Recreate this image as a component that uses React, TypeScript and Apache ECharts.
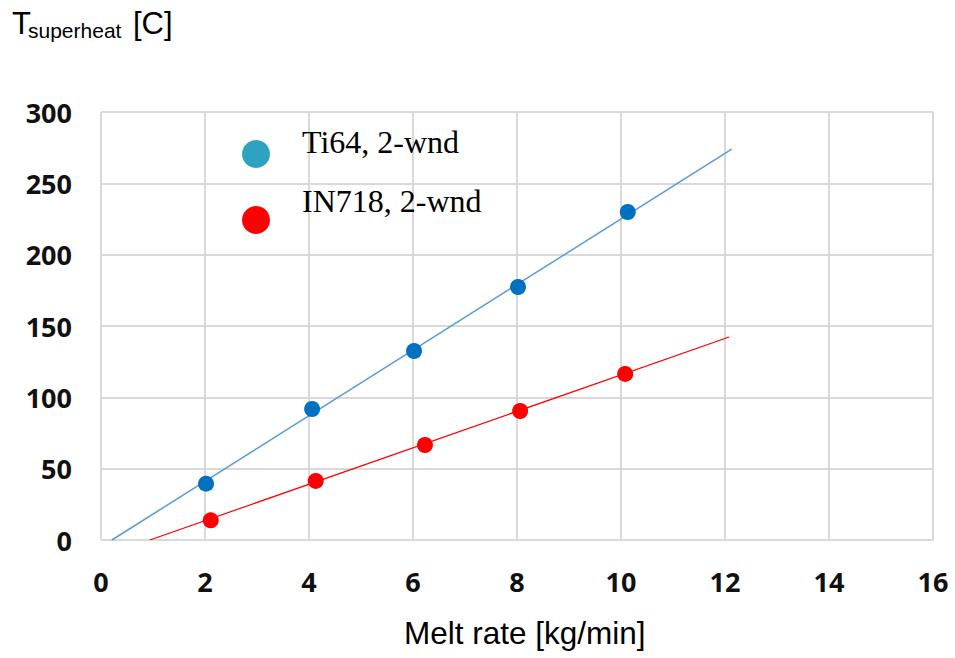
import React, { useEffect, useRef } from "react";
import * as echarts from "echarts";

const xTicks = [0, 2, 4, 6, 8, 10, 12, 14, 16];
const yTicks = [0, 50, 100, 150, 200, 250, 300];

const ti64X = [2.02, 4.06, 6.02, 8.02, 10.13];
const ti64Y = [39.5, 91.8, 132.5, 177.3, 229.9];
const in718X = [2.11, 4.13, 6.23, 8.06, 10.08];
const in718Y = [13.8, 41.4, 66.6, 90.4, 116.4];

const ti64FitX = [0.21, 12.13];
const ti64FitY = [0, 274];
const in718FitX = [0.94, 12.08];
const in718FitY = [0, 142.3];

const legendNames = ["Ti64, 2-wnd", "IN718, 2-wnd"];
const titleMain = "T";
const titleSub = "superheat";
const titleUnit = "[C]";
const xName = "Melt rate [kg/min]";

const zip = (xs: number[], ys: number[]) => xs.map((x, i) => [x, ys[i]]);

export default function App() {
  const ref = useRef<HTMLDivElement>(null);
  useEffect(() => {
    if (!ref.current) return;
    const chart = echarts.init(ref.current, undefined, { renderer: "svg" });
    const tickFont = { fontFamily: "Open Sans, sans-serif", fontWeight: "bold" as const, fontSize: 27, color: "#111" };
    chart.setOption({
      animation: false,
      backgroundColor: "#fff",
      grid: { left: 101, top: 112, width: 832, height: 428, containLabel: false, outerBoundsMode: "none" },
      xAxis: {
        type: "value",
        min: xTicks[0],
        max: xTicks[xTicks.length - 1],
        interval: 2,
        axisLine: { show: true, lineStyle: { color: "#d9d9d9", width: 2 } },
        axisTick: { show: false },
        splitLine: { show: true, lineStyle: { color: "#d9d9d9", width: 2 } },
        axisLabel: { ...tickFont, margin: 28 },
      },
      yAxis: {
        type: "value",
        min: yTicks[0],
        max: yTicks[yTicks.length - 1],
        interval: 50,
        axisLine: { show: false },
        axisTick: { show: false },
        splitLine: { show: true, lineStyle: { color: "#d9d9d9", width: 2 } },
        axisLabel: { ...tickFont, margin: 29 },
      },
      series: [
        {
          type: "line",
          data: zip(ti64FitX, ti64FitY),
          symbol: "none",
          lineStyle: { color: "#5b9bd5", width: 1.5 },
          z: 2,
        },
        {
          type: "line",
          data: zip(in718FitX, in718FitY),
          symbol: "none",
          lineStyle: { color: "#ff0000", width: 1.2 },
          z: 2,
        },
        {
          type: "scatter",
          name: legendNames[0],
          data: zip(ti64X, ti64Y),
          symbolSize: 16,
          itemStyle: { color: "#0070c0", opacity: 1 },
          z: 3,
        },
        {
          type: "scatter",
          name: legendNames[1],
          data: zip(in718X, in718Y),
          symbolSize: 16,
          itemStyle: { color: "#ff0000", opacity: 1 },
          z: 3,
        },
      ],
      graphic: [
        { type: "text", left: 12, top: 8, style: { text: titleMain, fontFamily: "Liberation Sans, Arial", fontSize: 31, fill: "#000" } },
        { type: "text", left: 28, top: 20, style: { text: titleSub, fontFamily: "Liberation Sans, Arial", fontSize: 21, fill: "#000" } },
        { type: "text", left: 133, top: 8, style: { text: titleUnit, fontFamily: "Liberation Sans, Arial", fontSize: 31, fill: "#000" } },
        { type: "text", left: 404, top: 617, style: { text: xName, fontFamily: "Liberation Sans, Arial", fontSize: 31.5, fill: "#000" } },
        { type: "circle", shape: { cx: 256, cy: 154, r: 14 }, style: { fill: "#2ea3c1" }, z: 10 },
        { type: "circle", shape: { cx: 256, cy: 220, r: 14 }, style: { fill: "#ff0000" }, z: 10 },
        { type: "text", left: 302, top: 126, style: { text: legendNames[0], fontFamily: "Liberation Serif, Times New Roman, serif", fontSize: 32, fill: "#000" }, z: 10 },
        { type: "text", left: 302, top: 185, style: { text: legendNames[1], fontFamily: "Liberation Serif, Times New Roman, serif", fontSize: 32, fill: "#000" }, z: 10 },
      ],
    });
    return () => chart.dispose();
  }, []);
  return <div ref={ref} style={{ position: "absolute", left: 0, top: 0, width: 955, height: 658 }} />;
}
